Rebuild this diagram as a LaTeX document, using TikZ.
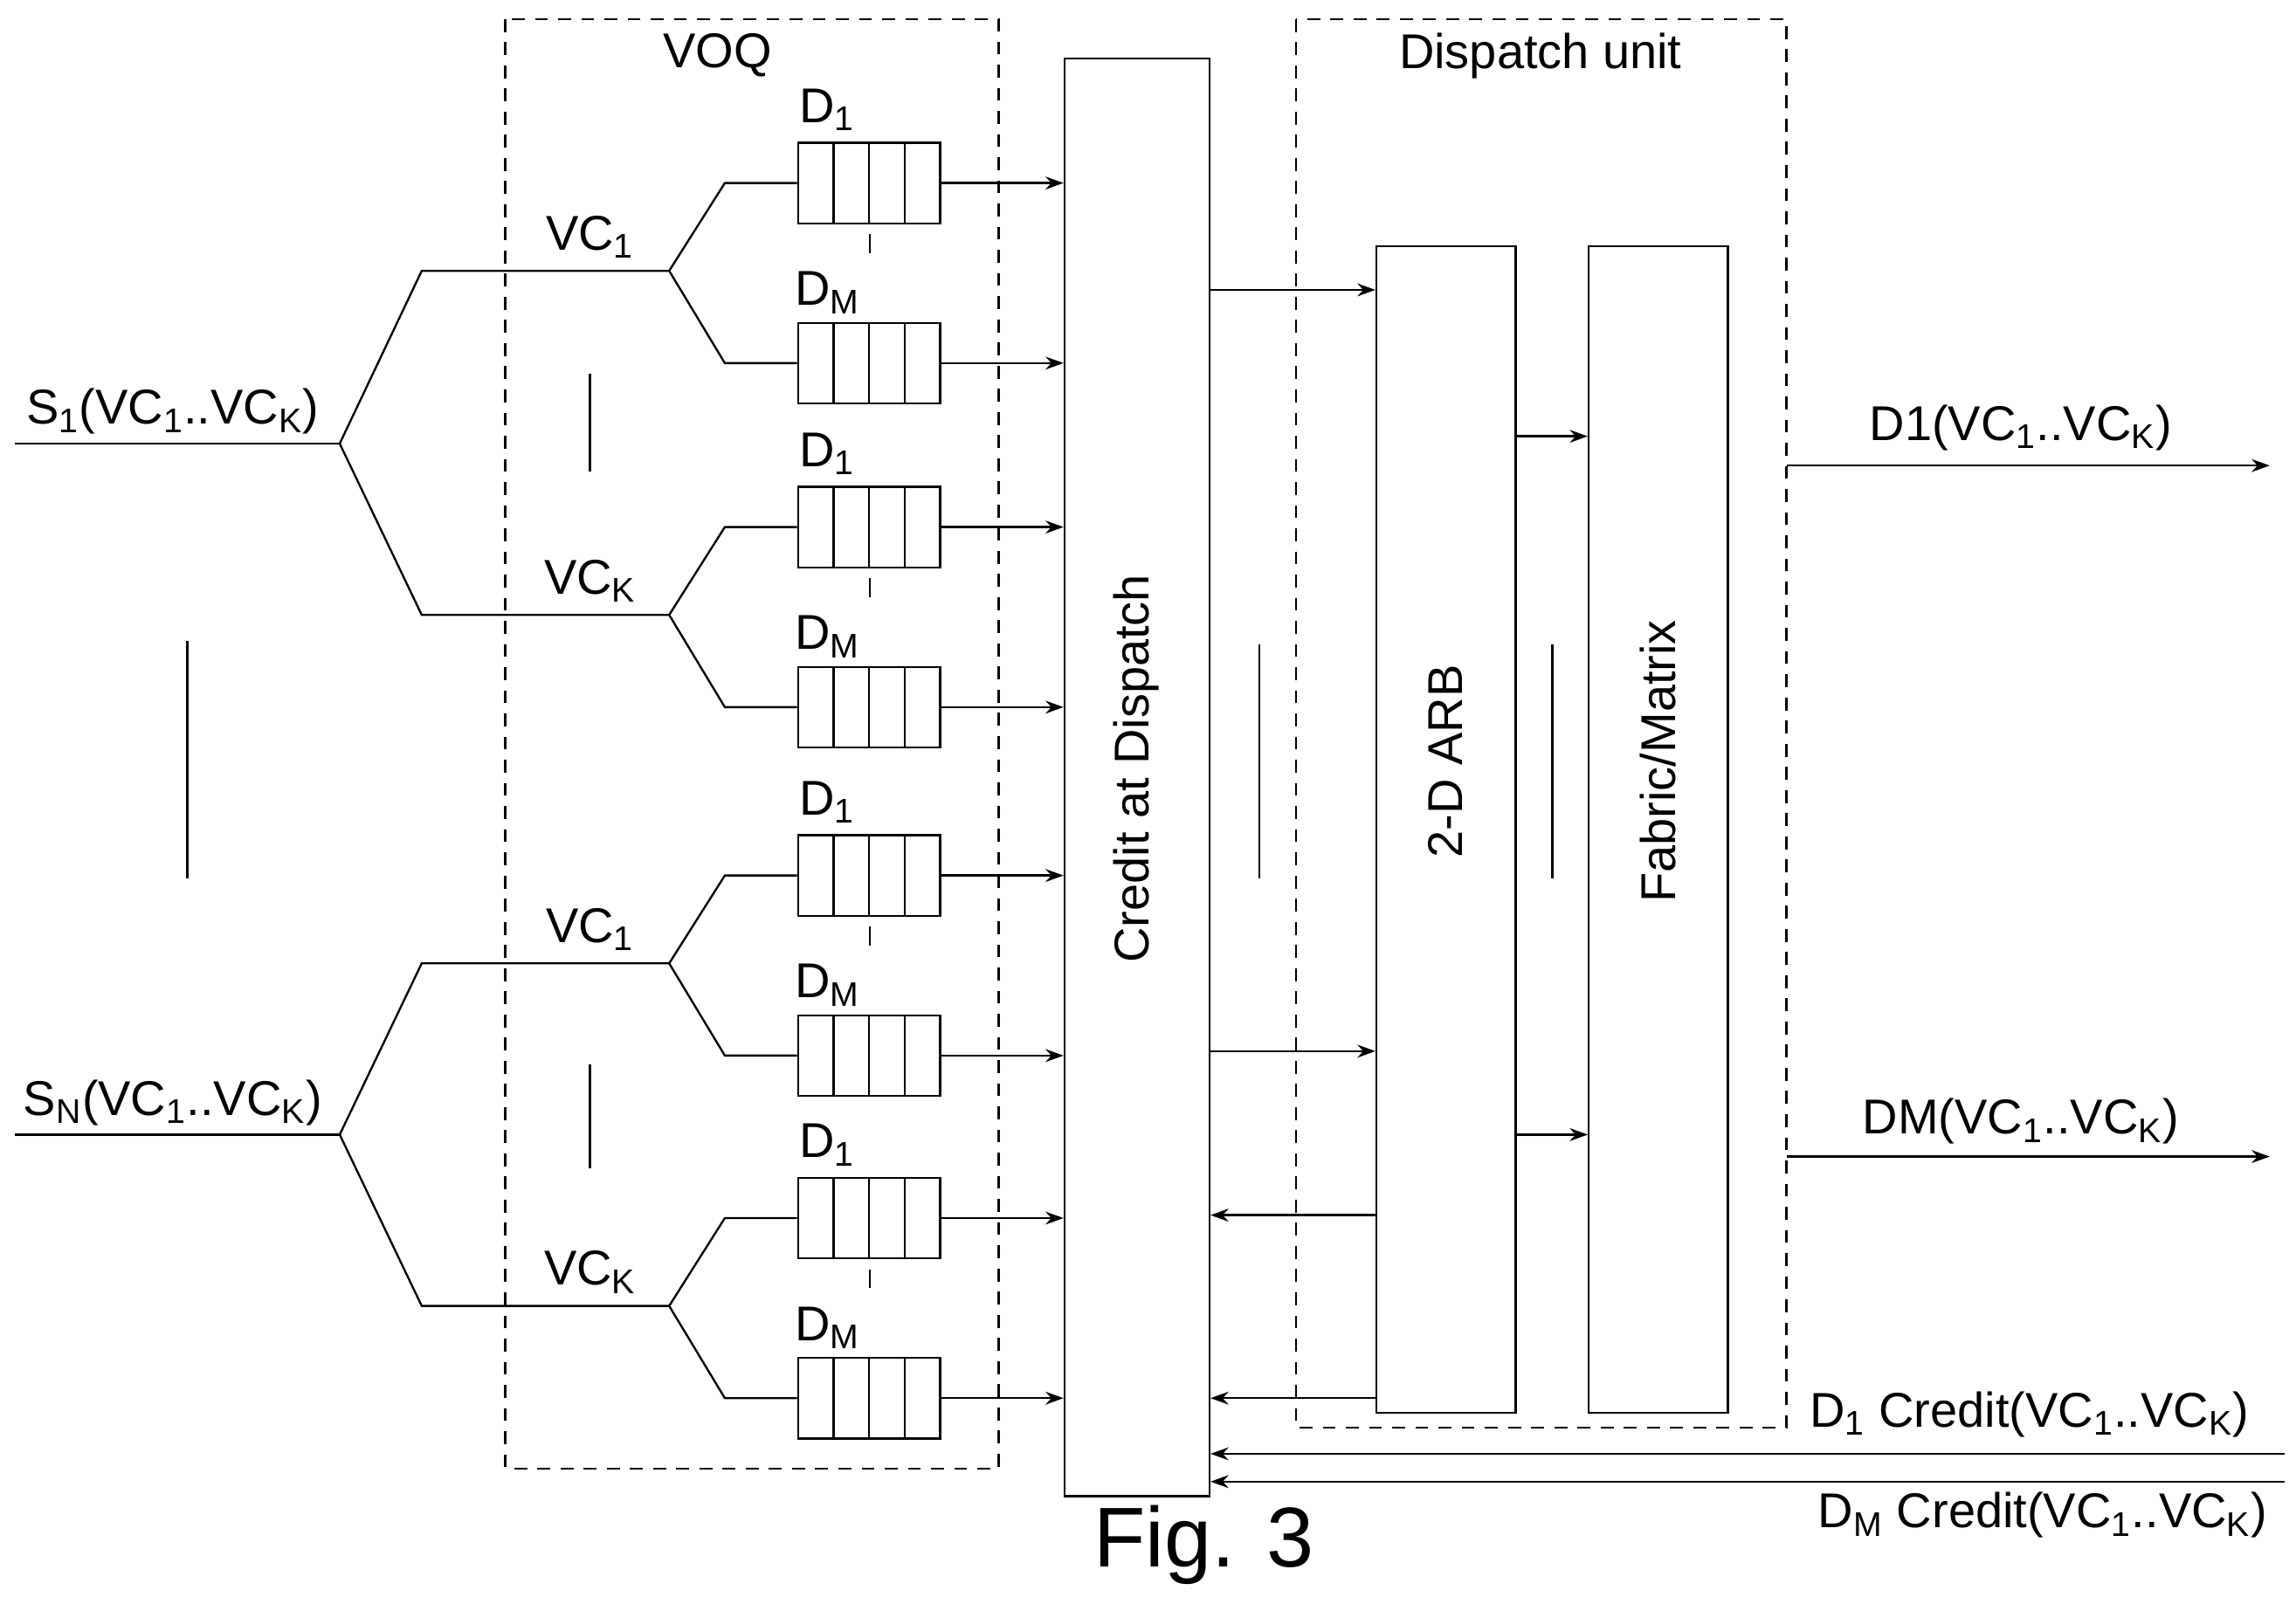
\documentclass[tikz,border=0pt]{standalone}
\usepackage{fontspec}
\setmainfont{Liberation Sans}
\usetikzlibrary{arrows.meta,calc}
\newcommand{\lo}[1]{\textsubscript{#1}}
\begin{document}
\begin{tikzpicture}[
    x=0.02cm, y=-0.02cm,
    line width=0.8pt,
    txt/.style={font=\fontsize{19}{21}\selectfont, inner sep=1pt},
    queue/.style={rectangle, draw, minimum width=1.94cm, minimum height=1.1cm,
        path picture={\foreach \f in {0.25,0.5,0.75}
            \draw ($(path picture bounding box.south west)!\f!(path picture bounding box.south east)$) -- +(0,1.1cm);}},
    block/.style={rectangle, draw, minimum width=1.9cm, minimum height=15.94cm},
    frame/.style={draw, dashed, dash pattern=on 5pt off 4pt},
    arrow/.style={-{Stealth[length=7pt,width=5pt]}},
    sep/.style={line width=0.9pt}
]
\useasboundingbox (0,0) rectangle (1568,1100);

% Frames
\draw[frame] (345,13) rectangle (682,1003);
\node[txt] (voq_label) at (490,38) {VOQ};
\draw[frame] (885,13) rectangle (1220,975);
\node[txt] (disp_label) at (1052,38) {Dispatch unit};

% Central blocks
\node[rectangle, draw, minimum width=1.98cm, minimum height=19.64cm] (credit) at (776.5,531) {};
\node[txt, rotate=90] (credit_label) at (776,525) {Credit at Dispatch};
\node[block] (arb) at (987.5,566.5) {};
\node[txt, rotate=90] (arb_label) at (987,520) {2-D ARB};
\node[block] (fabric) at (1132.5,566.5) {};
\node[txt, rotate=90] (fabric_label) at (1132,520) {Fabric/Matrix};

% Queues, VC branches and inputs
\foreach \s/\sy/\slab in {a/303/S\lo{1}(VC\lo{1}..VC\lo{K}), b/775/S\lo{N}(VC\lo{1}..VC\lo{K})} {
    \coordinate (in\s) at (10,\sy);
    \coordinate (br\s) at (232,\sy);
    \node[txt] (lab\s) at (118,{\sy-22}) {\slab};
    \draw (in\s) -- (br\s);
}
\foreach \v/\s/\vy/\vlab in {a1/a/185/VC\lo{1}, aK/a/420/VC\lo{K}, b1/b/658/VC\lo{1}, bK/b/892/VC\lo{K}} {
    \coordinate (vs\v) at (288,\vy);
    \coordinate (vb\v) at (457,\vy);
    \node[txt] (vl\v) at (403,{\vy-23}) {\vlab};
    \draw (br\s) -- (vs\v) -- (vb\v);
    \node[queue] (q\v d1) at (593.5,{\vy-60}) {};
    \node[queue] (q\v dm) at (593.5,{\vy+63}) {};
    \node[txt] (dl\v a) at (565,{\vy-110}) {D\lo{1}};
    \node[txt] (dl\v b) at (565,{\vy+15}) {D\lo{M}};
    \draw[sep] (594,{\vy-25}) -- (594,{\vy-12});
    \draw (vb\v) -- (495,{\vy-60}) -- (q\v d1.west);
    \draw (vb\v) -- (495,{\vy+63}) -- (q\v dm.west);
    \draw[arrow] (q\v d1.east) -- (credit.west |- q\v d1.east);
    \draw[arrow] (q\v dm.east) -- (credit.west |- q\v dm.east);
}

% Separators
\draw[sep] (403,255) -- (403,322);
\draw[sep] (403,727) -- (403,798);
\draw[sep] (128,438) -- (128,600);
\draw[sep] (860,440) -- (860,600);
\draw[sep] (1060,440) -- (1060,600);

% Dispatch connections
\coordinate (c1) at (826,198);
\coordinate (c2) at (826,718);
\draw[arrow] (c1) -- (arb.west |- c1);
\draw[arrow] (c2) -- (arb.west |- c2);
\coordinate (c3) at (940,830);
\coordinate (c4) at (940,955);
\draw[arrow] (c3) -- (credit.east |- c3);
\draw[arrow] (c4) -- (credit.east |- c4);
\coordinate (a1) at (1035,298);
\coordinate (a2) at (1035,775);
\draw[arrow] (a1) -- (fabric.west |- a1);
\draw[arrow] (a2) -- (fabric.west |- a2);

% Outputs
\coordinate (o1s) at (1220,318);
\coordinate (o1e) at (1550,318);
\coordinate (o2s) at (1220,790);
\coordinate (o2e) at (1550,790);
\draw[arrow] (o1s) -- (o1e);
\draw[arrow] (o2s) -- (o2e);
\node[txt] (out1) at (1380,292) {D1(VC\lo{1}..VC\lo{K})};
\node[txt] (out2) at (1380,766) {DM(VC\lo{1}..VC\lo{K})};

% Credit returns
\coordinate (cr1) at (1560,993);
\coordinate (cr2) at (1560,1012);
\draw[arrow] (cr1) -- (credit.east |- cr1);
\draw[arrow] (cr2) -- (credit.east |- cr2);
\node[txt] (crl1) at (1386,966) {D\lo{1} Credit(VC\lo{1}..VC\lo{K})};
\node[txt] (crl2) at (1395,1035) {D\lo{M} Credit(VC\lo{1}..VC\lo{K})};

\node[font=\fontsize{33}{36}\selectfont] (fig) at (822,1055) {Fig. 3};
\end{tikzpicture}
\end{document}
